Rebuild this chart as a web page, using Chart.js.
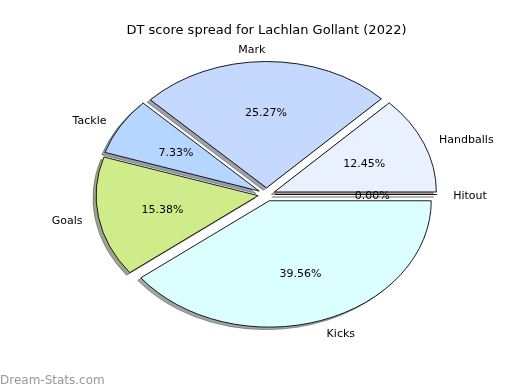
<!DOCTYPE html>
<html>
<head>
<meta charset="utf-8">
<script src="https://cdn.jsdelivr.net/npm/chart.js@4.4.0/dist/chart.umd.min.js"></script>
<style>
  html, body { margin: 0; padding: 0; background: #fff; }
  #wrap { width: 520px; height: 390px; }
</style>
</head>
<body>
<div id="wrap"><canvas id="graficoPizza" width="520" height="390"></canvas></div>
<script>
// ================================
// DADOS (ordem anti-horária a partir das 3 horas)
// ================================
const categorias = ["Handballs", "Mark", "Tackle", "Goals", "Kicks", "Hitout"];
const percentuais = [12.45, 25.27, 7.33, 15.38, 39.56, 0.00];
const cores = ["#eaf1fe", "#c5d9ff", "#b5d6ff", "#d0eb8a", "#dbffff", "#e0e0e0"];

const titulo = "DT score spread for Lachlan Gollant (2022)";
const marcaDagua = "Dream-Stats.com";

// aparência
const ESCALA_Y = 0.78;   // pizza achatada (elipse)
const EXPLODE = 8.5;     // deslocamento de cada fatia
const SOMBRA = 3.2;      // deslocamento da sombra
const AJUSTE_TEXTO = 1.5; // centro vertical do texto como no matplotlib
const FONTE = "'DejaVu Sans', sans-serif";

// Chart.js desenha no sentido horário, então invertemos
const rotulos = categorias.slice().reverse();
const valores = percentuais.slice().reverse();
const coresFatias = cores.slice().reverse();

function corSombra(hex) {
  const r = parseInt(hex.slice(1, 3), 16) * 0.3;
  const g = parseInt(hex.slice(3, 5), 16) * 0.3;
  const b = parseInt(hex.slice(5, 7), 16) * 0.3;
  return `rgba(${r.toFixed(0)},${g.toFixed(0)},${b.toFixed(0)},0.5)`;
}

function centro(chart) {
  const a = chart.chartArea;
  return { cx: (a.left + a.right) / 2, cy: (a.top + a.bottom) / 2 };
}

// ================================
// PLUGIN: explode, elipse, sombra e rótulos
// ================================
const pluginPizza = {
  id: "pizza",
  afterDatasetUpdate(chart, args) {
    const meta = chart.getDatasetMeta(args.index);
    meta.data.forEach(arc => {
      const meio = (arc.startAngle + arc.endAngle) / 2;
      arc.x += Math.cos(meio) * EXPLODE;
      arc.y += Math.sin(meio) * EXPLODE;
    });
  },
  beforeDatasetsDraw(chart) {
    const ctx = chart.ctx;
    const { cx, cy } = centro(chart);
    ctx.save();
    ctx.translate(cx, cy);
    ctx.scale(1, ESCALA_Y);
    ctx.translate(-cx, -cy);

    // sombras por baixo de todas as fatias
    const meta = chart.getDatasetMeta(0);
    meta.data.forEach((arc, i) => {
      const sx = arc.x - SOMBRA, sy = arc.y + SOMBRA;
      ctx.beginPath();
      ctx.moveTo(sx, sy);
      if (arc.endAngle > arc.startAngle) {
        ctx.arc(sx, sy, arc.outerRadius, arc.startAngle, arc.endAngle);
      } else {
        ctx.lineTo(sx + Math.cos(arc.startAngle) * arc.outerRadius, sy + Math.sin(arc.startAngle) * arc.outerRadius);
      }
      ctx.closePath();
      ctx.fillStyle = corSombra(coresFatias[i]);
      ctx.strokeStyle = corSombra(coresFatias[i]);
      ctx.lineWidth = 1;
      ctx.fill();
      ctx.stroke();
    });
  },
  afterDatasetsDraw(chart) {
    const ctx = chart.ctx;
    const meta = chart.getDatasetMeta(0);

    // fatias de valor zero viram uma linha
    meta.data.forEach(arc => {
      if (arc.endAngle - arc.startAngle > 0) return;
      ctx.beginPath();
      ctx.moveTo(arc.x, arc.y);
      ctx.lineTo(arc.x + Math.cos(arc.startAngle) * arc.outerRadius, arc.y + Math.sin(arc.startAngle) * arc.outerRadius);
      ctx.strokeStyle = "#000";
      ctx.lineWidth = 1;
      ctx.stroke();
    });
    ctx.restore();

    // rótulos (fora) e percentuais (dentro)
    const { cx, cy } = centro(chart);
    const tela = (x, y) => [x, cy + (y - cy) * ESCALA_Y + AJUSTE_TEXTO];
    ctx.save();
    ctx.fillStyle = "#000";
    ctx.font = `11px ${FONTE}`;
    ctx.textBaseline = "middle";
    meta.data.forEach((arc, i) => {
      const meio = (arc.startAngle + arc.endAngle) / 2;
      const r = arc.outerRadius;
      const [lx, ly] = tela(arc.x + Math.cos(meio) * r * 1.1, arc.y + Math.sin(meio) * r * 1.1);
      ctx.textAlign = (lx - cx) > 0 ? "left" : "right";
      ctx.fillText(rotulos[i], lx, ly);
      const [px, py] = tela(arc.x + Math.cos(meio) * r * 0.6, arc.y + Math.sin(meio) * r * 0.6);
      ctx.textAlign = "center";
      ctx.fillText(valores[i].toFixed(2) + "%", px, py);
    });
    ctx.restore();
  },
  afterDraw(chart) {
    const ctx = chart.ctx;
    const { cx } = centro(chart);
    ctx.save();
    ctx.fillStyle = "#000";
    ctx.font = `13px ${FONTE}`;
    ctx.textAlign = "center";
    ctx.textBaseline = "middle";
    ctx.fillText(titulo, cx, 30.5);

    ctx.fillStyle = "#999";
    ctx.font = `12px ${FONTE}`;
    ctx.textAlign = "left";
    ctx.textBaseline = "alphabetic";
    ctx.fillText(marcaDagua, 0, 384);
    ctx.restore();
  }
};

// ================================
// GRÁFICO
// ================================
new Chart(document.getElementById("graficoPizza"), {
  type: "pie",
  data: {
    labels: rotulos,
    datasets: [{
      data: valores,
      backgroundColor: coresFatias,
      borderColor: "#000",
      borderWidth: 1,
      clip: false,
    }],
  },
  options: {
    responsive: false,
    devicePixelRatio: 1,
    animation: false,
    rotation: 90,
    layout: { padding: { left: 104, right: 91, top: 32, bottom: 33 } },
    plugins: {
      legend: { display: false },
      tooltip: { enabled: false },
      title: { display: false },
    },
  },
  plugins: [pluginPizza],
});
</script>
</body>
</html>
